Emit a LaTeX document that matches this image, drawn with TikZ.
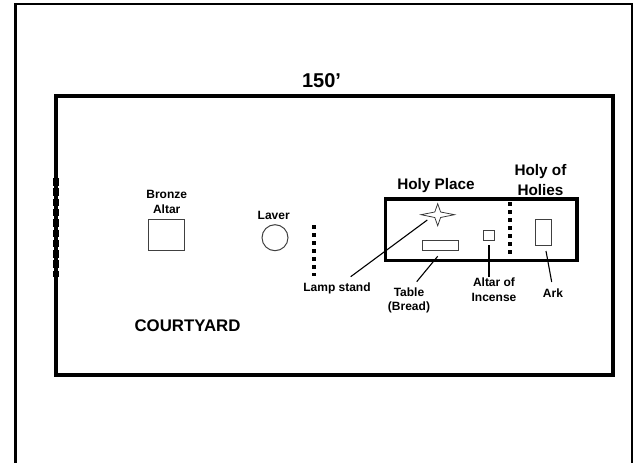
\documentclass[tikz,border=0pt]{standalone}
\usepackage{fontspec}
\setmainfont{Liberation Sans}
\newcommand{\lab}[2]{\fontsize{#1}{#2}\selectfont\bfseries}
\tikzset{
  x=1pt,y=-1pt,
  wall/.style={draw=black,line width=3.8pt,miter limit=10},
  outerframe/.style={draw=black,line width=2.6pt},
  item/.style={draw=black!75,line width=1pt,fill=white,inner sep=0pt,outer sep=0pt},
  leader/.style={draw=black,line width=1.1pt},
  veil/.style={draw=black,line width=3.5pt,dash pattern=on 3.5pt off 4.5pt},
  gate/.style={draw=black,line width=5.6pt,dash pattern=on 7.5pt off 2.8pt},
  txt/.style={inner sep=0pt,outer sep=0pt,align=center,text=black},
}
\begin{document}
\begin{tikzpicture}
\useasboundingbox (0,0) rectangle (633,463);
\fill[white] (0,0) rectangle (633,463);
% frame
\draw[outerframe] (15.5,463) -- (15.5,4) -- (632,4) -- (632,463);
% courtyard and sanctuary
\node[wall,fill=none,minimum width=557.3pt,minimum height=279pt,inner sep=0pt,outer sep=0pt,anchor=north west] (court) at (55.7,95.7) {};
\coordinate (g1) at (56,178); \coordinate (g2) at (56,277);
\draw[gate] (g1) -- (g2);
\node[wall,line width=3.2pt,minimum width=191.3pt,minimum height=61.7pt,inner sep=0pt,outer sep=0pt,anchor=north west] (sanct) at (385.7,199) {};
% veils
\coordinate (v1a) at (510,202.2); \coordinate (v1b) at (510,258);
\draw[veil] (v1a) -- (v1b);
\coordinate (v2a) at (314,225); \coordinate (v2b) at (314,276);
\draw[veil] (v2a) -- (v2b);
% furniture
\node[item,minimum width=36.4pt,minimum height=31.4pt,anchor=north west] (bronze) at (148.3,219.3) {};
\node[item,circle,minimum size=26pt] (laver) at (275,237.7) {};
\node[item,minimum width=36.4pt,minimum height=10.4pt,anchor=north west] (table) at (422.3,240.3) {};
\node[item,minimum width=11pt,minimum height=10.7pt,anchor=north west] (incense) at (483.7,230) {};
\node[item,minimum width=16.4pt,minimum height=26.4pt,anchor=north west] (ark) at (535.3,219.3) {};
\draw[draw=black!80,line width=.75pt,fill=white,line join=miter]
  (437.7,203.7) -- (440.6,212) -- (454.5,214.7) -- (440.6,217.5) -- (437.7,225.7)
  -- (434.8,217.5) -- (421,214.7) -- (434.8,212) -- cycle;
% labels
\node[txt,font=\lab{20}{24}] (t150) at (321.5,81) {150’};
\node[txt,font=\lab{12}{15}] (tbronze) at (166.7,201.5) {Bronze\\Altar};
\node[txt,font=\lab{12}{15}] (tlaver) at (273.7,215) {Laver};
\node[txt,font=\lab{12}{15}] (tlamp) at (337,288) {Lamp stand};
\node[txt,font=\lab{16.8}{20}] (tcourt) at (187.5,326) {COURTYARD};
\node[txt,font=\lab{15.3}{19.5}] (tplace) at (436,186) {Holy Place};
\node[txt,font=\lab{15.3}{19.5}] (tholies) at (540.5,180) {Holy of\\Holies};
\node[txt,font=\lab{12}{14.5}] (ttable) at (409,300.5) {Table\\(Bread)};
\node[txt,font=\lab{12}{14.5}] (tincense) at (494,289.5) {Altar of\\Incense};
\node[txt,font=\lab{12}{15}] (tark) at (553,293) {Ark};
% leaders
\coordinate (l1) at (427.3,220); \coordinate (l2) at (350.7,276.7);
\draw[leader] (l1) -- (l2);
\coordinate (l3) at (437.7,256.3); \coordinate (l4) at (416.7,281.7);
\draw[leader] (l3) -- (l4);
\coordinate (l5) at (488.7,245); \coordinate (l6) at (488.7,276.7);
\draw[leader,line width=1.7pt] (l5) -- (l6);
\coordinate (l7) at (546,251); \coordinate (l8) at (551.7,282);
\draw[leader] (l7) -- (l8);
\end{tikzpicture}
\end{document}
